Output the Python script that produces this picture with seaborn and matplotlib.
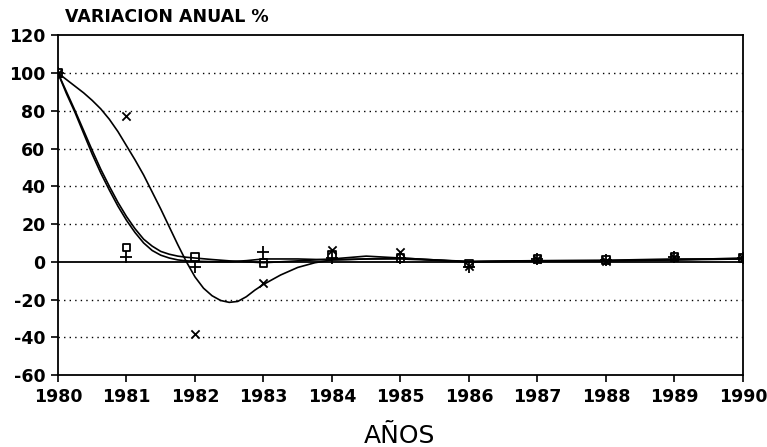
import numpy as np
import pandas as pd
import matplotlib
matplotlib.use("Agg")
import matplotlib.pyplot as plt
import seaborn as sns

# ---- data ----
years = [1980, 1981, 1982, 1983, 1984, 1985, 1986, 1987, 1988, 1989, 1990]
plus_vals = [100, 2.5, -2.5, 5, 2, 2, -2.5, 1.5, 1, 2.5, 2]
square_vals = [100, 7.5, 2.5, -0.5, 3.5, 2, -1, 1.5, 1, 2.5, 2]
star_vals = [100, 77, -38, -11, 6, 5, -2, 1.5, 0.5, 2.5, 2]

# smoothed curves as drawn in the picture (sampled positions and read values)
curve_t_a = [1980, 1980.125, 1980.25, 1980.375, 1980.5, 1980.625, 1980.75,
             1980.875, 1981, 1981.125, 1981.25, 1981.375, 1981.5, 1981.625,
             1981.75, 1981.875, 1982, 1982.25, 1982.5, 1982.75, 1983, 1983.5,
             1984, 1984.5, 1985, 1985.5, 1986, 1987, 1988, 1989, 1990]
curve_plus = [100, 89, 79, 68, 57, 47, 38, 29.5, 22, 15.5, 10, 6, 3.5, 2,
              1, 0.5, 0.3, 0.1, 0, 0.6, 1.5, 1.5,
              1, 1.5, 1.5, 0.8, 0, 0.5, 0.6, 1, 1.5]
curve_square = [100, 90, 80, 69.5, 59, 49, 40, 31.5, 24, 17.5, 12, 8.3, 5.5, 4,
                3, 2.4, 2, 1.2, 0.5, 0, -0.5, 0.5,
                1.5, 3, 2, 1, 0.2, 0.6, 0.8, 1.5, 1.5]

curve_t_b = [1980, 1980.125, 1980.25, 1980.375, 1980.5, 1980.625, 1980.75,
             1980.875, 1981, 1981.125, 1981.25, 1981.375,
             1981.5, 1981.625, 1981.75, 1981.875, 1982, 1982.125, 1982.25,
             1982.375, 1982.5, 1982.625, 1982.75, 1982.875, 1983, 1983.25,
             1983.5, 1983.75, 1984, 1985, 1986, 1987, 1988, 1989, 1990]
curve_star = [100, 96.5, 93, 89.5, 85.5, 81, 75.5, 69, 61.5, 54, 46, 37, 28,
              18.5, 9, 0, -8, -14, -18, -20.5, -21.5, -21, -18.5, -15, -12, -7,
              -3, -0.5, 1, 2, 0, 0.5, 0.5, 1, 2]

y_ticks = [-60, -40, -20, 0, 20, 40, 60, 80, 100, 120]
x_ticks = years
title_text = "VARIACION ANUAL %"
xlabel_text = "AÑOS"

# ---- plotting ----
sns.set_style("ticks")
plt.rcParams['font.family'] = ['DejaVu Sans']
plt.rcParams['text.color'] = 'black'

fig = plt.figure(figsize=(7.67, 4.47), dpi=100)
ax = fig.add_axes([0.0756, 0.161, 0.893, 0.760])

# grid lines
for yv in y_ticks:
    if yv == 0:
        ax.axhline(yv, color="black", lw=1.3, zorder=1)
    elif yv not in (-60, 120):
        ax.axhline(yv, color="black", lw=1.0, ls=(0, (1, 3)), zorder=1)

lw = 1.2
sns.lineplot(x=curve_t_a, y=curve_plus, ax=ax, color="black", lw=lw,
             estimator=None, sort=False, zorder=3)
sns.lineplot(x=curve_t_a, y=curve_square, ax=ax, color="black", lw=lw,
             estimator=None, sort=False, zorder=3)
sns.lineplot(x=curve_t_b, y=curve_star, ax=ax, color="black", lw=lw,
             estimator=None, sort=False, zorder=3)

sns.scatterplot(x=years, y=plus_vals, ax=ax, marker="+", s=70, color="black",
                linewidth=1.3, zorder=4)
sns.scatterplot(x=years, y=square_vals, ax=ax, marker="s", s=30,
                facecolor="none", edgecolor="black", linewidth=1.3, zorder=4)
sns.scatterplot(x=years, y=star_vals, ax=ax, marker="x", s=35, color="black",
                linewidth=1.3, zorder=4)

ax.set_xlim(1980, 1990)
ax.set_ylim(-60, 120)
ax.set_xticks(x_ticks)
ax.set_yticks(y_ticks)
ax.set_xticklabels([str(v) for v in x_ticks])
ax.set_yticklabels([str(v) for v in y_ticks])
ax.tick_params(axis="both", direction="out", length=5, width=1.2,
               labelsize=12.5, colors="black", pad=4)
for lab in ax.get_xticklabels() + ax.get_yticklabels():
    lab.set_fontweight("bold")
for sp in ax.spines.values():
    sp.set_visible(True)
    sp.set_linewidth(1.3)
    sp.set_color("black")
ax.set_xlabel("")
ax.set_ylabel("")

fig.text(0.085, 0.963, title_text, fontsize=12.5, fontweight="bold",
         ha="left", va="center", color="black")
fig.text(0.521, 0.025, xlabel_text, fontsize=18, ha="center", va="center",
         color="black")

fig.savefig("out.png", dpi=100)
